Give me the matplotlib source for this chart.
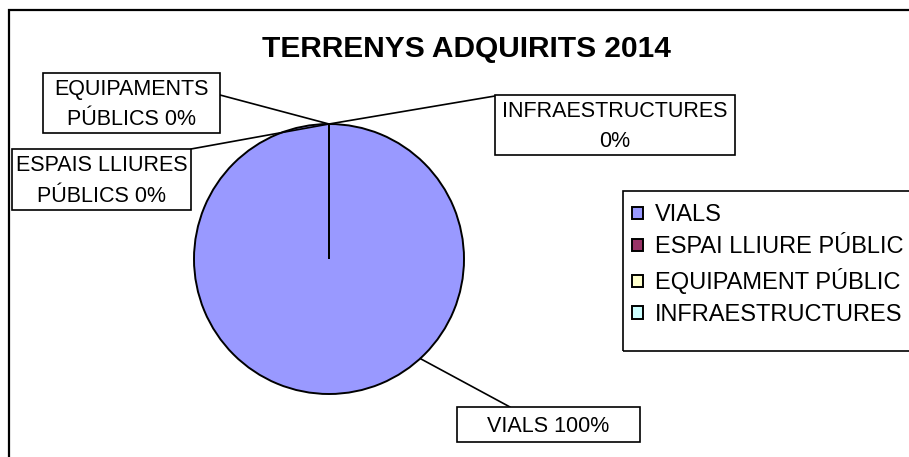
import numpy as np
import matplotlib.pyplot as plt
from matplotlib.patches import Rectangle

plt.rcParams['font.family'] = ['Liberation Sans', 'DejaVu Sans']

TITLE = "TERRENYS ADQUIRITS 2014"
categories = ["VIALS", "ESPAI LLIURE PÚBLIC", "EQUIPAMENT PÚBLIC", "INFRAESTRUCTURES"]
label_names = ["VIALS", "ESPAIS LLIURES\nPÚBLICS", "EQUIPAMENTS\nPÚBLICS", "INFRAESTRUCTURES"]
label_seps = [" ", " ", " ", "\n"]
values = [100, 0, 0, 0]
colors = ["#9999FF", "#993366", "#FFFFCC", "#CCFFFF"]

W, H = 909, 457
fig = plt.figure(figsize=(W / 100, H / 100), dpi=100)


def fx(x):
    return x / W


def fy(y):
    return 1 - y / H


def box(x0, y0, x1, y1, **kw):
    fig.add_artist(Rectangle((fx(x0), fy(y1)), (x1 - x0) / W, (y1 - y0) / H,
                             transform=fig.transFigure, edgecolor='black', **kw))


# outer chart frame (runs off the right and bottom edges)
box(9, 10, 940, 475, fill=False, lw=1.6)

fig.text(fx(466), fy(49), TITLE, ha='center', va='center', fontsize=21.5, weight='bold')

ax = fig.add_axes([fx(194), fy(394), 270 / W, 270 / H])
wedges, _ = ax.pie(values, colors=colors, startangle=90, counterclock=False,
                   wedgeprops=dict(edgecolor='black', linewidth=1.4))
ax.set_xlim(-1, 1)
ax.set_ylim(-1, 1)
ax.axis('off')

# data label boxes (pixels), where the leader leaves each box
boxes = [(457, 407, 640, 442), (12, 149, 191, 210), (43, 73, 220, 133), (495, 95, 735, 155)]
leader_start = [(510, 407), (191, 149), (220, 95), (495, 96)]
total = sum(values)
for i, (name, sep, v) in enumerate(zip(label_names, label_seps, values)):
    pct = round(v / total * 100)
    text = f"{name}{sep}{pct}%"
    if v > 0:
        ang = np.deg2rad(-47.5)
    else:
        ang = np.deg2rad(wedges[i].theta1)
    x0, y0, x1, y1 = boxes[i]
    sx, sy = leader_start[i]
    ax.annotate('', xy=(np.cos(ang), np.sin(ang)), xycoords='data',
                xytext=(fx(sx), fy(sy)), textcoords='figure fraction',
                arrowprops=dict(arrowstyle='-', lw=1.2, color='black', shrinkA=0, shrinkB=0),
                annotation_clip=False)
    box(x0, y0, x1, y1, facecolor='white', lw=1.2)
    fig.text(fx((x0 + x1) / 2), fy((y0 + y1) / 2 + 1.5), text, ha='center', va='center',
             multialignment='center', fontsize=15.5, linespacing=1.6)

# legend frame drawn separately (Excel leaves more room under the last entry)
box(623, 191, 940, 351, fill=False, lw=1.2)
leg = fig.legend(wedges, categories, loc='upper left', bbox_to_anchor=(fx(623), fy(195)),
                 frameon=False, fontsize=17,
                 handlelength=0.45, handleheight=0.45, handletextpad=0.5,
                 labelspacing=0.42, borderpad=0.4, borderaxespad=0)

fig.savefig('out.png', dpi=100)
